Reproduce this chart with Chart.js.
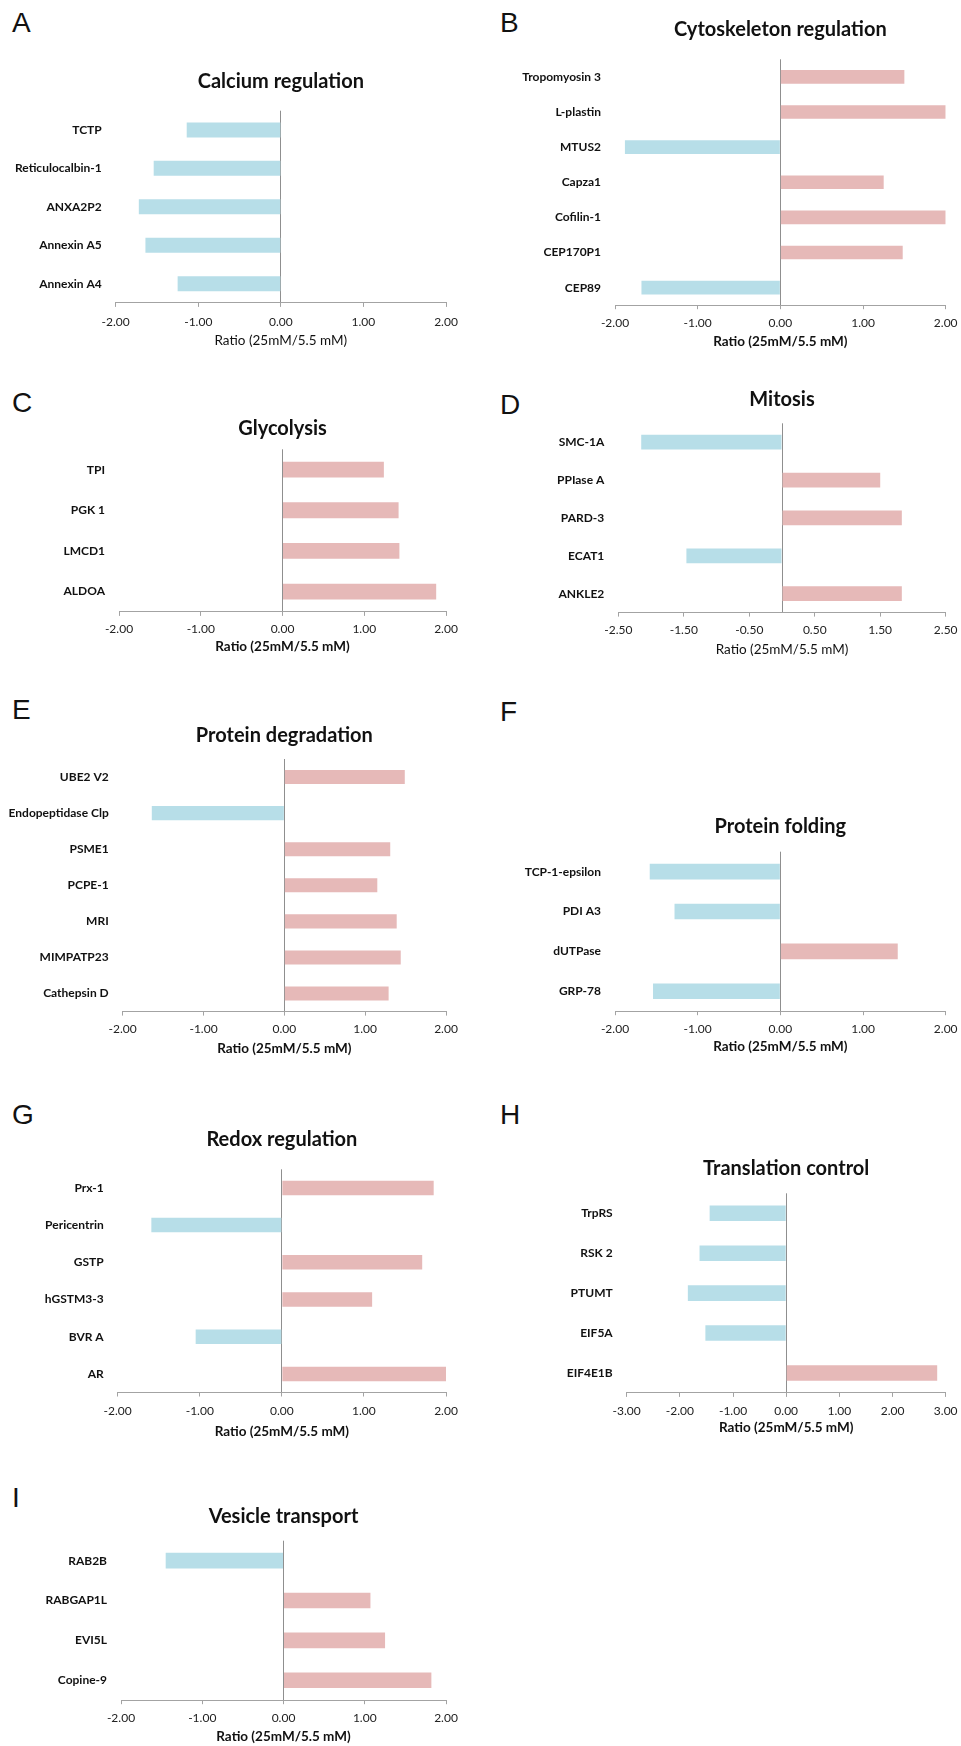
<!DOCTYPE html>
<html>
<head>
<meta charset="utf-8">
<script src="https://cdn.jsdelivr.net/npm/chart.js@4.4.1/dist/chart.umd.min.js"></script>
<style>
  html, body { margin: 0; padding: 0; background: #fff; }
  #page { position: relative; width: 961px; height: 1746px; overflow: hidden; background: #fff; }
  #page canvas { position: absolute; }
  .tag { position: absolute; font-family: "Liberation Sans", Arial, sans-serif; font-size: 28px; line-height: 28px; color: #111; }
</style>
</head>
<body>
<div id="page"></div>
<script>
// Fold-change ratios (25 mM / 5.5 mM glucose) per functional group
const calciumProteins = ['TCTP', 'Reticulocalbin-1', 'ANXA2P2', 'Annexin A5', 'Annexin A4'];
const calciumRatios = [-1.14, -1.54, -1.72, -1.64, -1.25];

const cytoskeletonProteins = ['Tropomyosin 3', 'L-plastin', 'MTUS2', 'Capza1', 'Cofilin-1', 'CEP170P1', 'CEP89'];
const cytoskeletonRatios = [1.50, 2.00, -1.88, 1.25, 2.00, 1.48, -1.68];

const glycolysisProteins = ['TPI', 'PGK 1', 'LMCD1', 'ALDOA'];
const glycolysisRatios = [1.24, 1.42, 1.43, 1.88];

const mitosisProteins = ['SMC-1A', 'PPIase A', 'PARD-3', 'ECAT1', 'ANKLE2'];
const mitosisRatios = [-2.15, 1.50, 1.83, -1.46, 1.83];

const degradationProteins = ['UBE2 V2', 'Endopeptidase Clp', 'PSME1', 'PCPE-1', 'MRI', 'MIMPATP23', 'Cathepsin D'];
const degradationRatios = [1.49, -1.64, 1.31, 1.15, 1.39, 1.44, 1.29];

const foldingProteins = ['TCP-1-epsilon', 'PDI A3', 'dUTPase', 'GRP-78'];
const foldingRatios = [-1.58, -1.28, 1.42, -1.54];

const redoxProteins = ['Prx-1', 'Pericentrin', 'GSTP', 'hGSTM3-3', 'BVR A', 'AR'];
const redoxRatios = [1.85, -1.59, 1.71, 1.10, -1.05, 2.00];

const translationProteins = ['TrpRS', 'RSK 2', 'PTUMT', 'EIF5A', 'EIF4E1B'];
const translationRatios = [-1.44, -1.63, -1.85, -1.52, 2.84];

const vesicleProteins = ['RAB2B', 'RABGAP1L', 'EVI5L', 'Copine-9'];
const vesicleRatios = [-1.45, 1.07, 1.25, 1.82];

// Axis tick values
const ticksTwo = [-2, -1, 0, 1, 2];
const ticksMitosis = [-2.5, -1.5, -0.5, 0.5, 1.5, 2.5];
const ticksThree = [-3, -2, -1, 0, 1, 2, 3];

const axisTitle = 'Ratio (25mM/5.5 mM)';

// Panel layout on the page (pixels)
const panels = [
  { tag: 'A', title: 'Calcium regulation', labels: calciumProteins, values: calciumRatios, ticks: ticksTwo,
    left: 0, w: 480, xL: 115.7, xR: 446, yC: 110.7, yA: 302.7, yT: 81.5, yTick: 321.7, yX: 340.7, boldX: false, tagX: 12, tagY: 13 },
  { tag: 'B', title: 'Cytoskeleton regulation', labels: cytoskeletonProteins, values: cytoskeletonRatios, ticks: ticksTwo,
    left: 480, w: 481, xL: 615, xR: 945.7, yC: 59.3, yA: 305, yT: 29.3, yTick: 323.3, yX: 341.7, boldX: true, tagX: 500, tagY: 13 },
  { tag: 'C', title: 'Glycolysis', labels: glycolysisProteins, values: glycolysisRatios, ticks: ticksTwo,
    left: 0, w: 480, xL: 119, xR: 446, yC: 449.3, yA: 611.7, yT: 429, yTick: 629.3, yX: 646.7, boldX: true, tagX: 12, tagY: 393 },
  { tag: 'D', title: 'Mitosis', labels: mitosisProteins, values: mitosisRatios, ticks: ticksMitosis,
    left: 480, w: 481, xL: 618.3, xR: 945.7, yC: 423.3, yA: 611.7, yT: 399.3, yTick: 629.3, yX: 649, boldX: false, tagX: 500, tagY: 395 },
  { tag: 'E', title: 'Protein degradation', labels: degradationProteins, values: degradationRatios, ticks: ticksTwo,
    left: 0, w: 480, xL: 122.7, xR: 446, yC: 759, yA: 1011, yT: 736, yTick: 1028.3, yX: 1048.3, boldX: true, tagX: 12, tagY: 700 },
  { tag: 'F', title: 'Protein folding', labels: foldingProteins, values: foldingRatios, ticks: ticksTwo,
    left: 480, w: 481, xL: 615, xR: 945.7, yC: 851.7, yA: 1011, yT: 826.7, yTick: 1029.3, yX: 1046.7, boldX: true, tagX: 500, tagY: 701.7 },
  { tag: 'G', title: 'Redox regulation', labels: redoxProteins, values: redoxRatios, ticks: ticksTwo,
    left: 0, w: 480, xL: 117.7, xR: 446, yC: 1169.3, yA: 1392.3, yT: 1139.3, yTick: 1410.7, yX: 1431.7, boldX: true, tagX: 12, tagY: 1105 },
  { tag: 'H', title: 'Translation control', labels: translationProteins, values: translationRatios, ticks: ticksThree,
    left: 480, w: 481, xL: 626.7, xR: 945.7, yC: 1193.3, yA: 1392.7, yT: 1168.3, yTick: 1410.7, yX: 1427.7, boldX: true, tagX: 500, tagY: 1105 },
  { tag: 'I', title: 'Vesicle transport', labels: vesicleProteins, values: vesicleRatios, ticks: ticksTwo,
    left: 0, w: 480, xL: 121, xR: 446, yC: 1540.7, yA: 1700, yT: 1516.7, yTick: 1717.7, yX: 1736.7, boldX: true, tagX: 12, tagY: 1487.3 }
];

const DOWN = '#B7DEE8';
const UP = '#E6B9B8';
const AXIS = '#a3a3a3';
const ZERO = '#8f8f8f';
const FONT = 'Lato, "Open Sans", sans-serif';

const page = document.getElementById('page');

function buildPanel(p) {
  // panel letter
  const tag = document.createElement('div');
  tag.className = 'tag';
  tag.textContent = p.tag;
  tag.style.left = p.tagX + 'px';
  tag.style.top = (p.tagY - 3.7) + 'px';
  page.appendChild(tag);

  const titleSize = 20, titleLH = titleSize * 1.2;
  const tickSize = 12, tickLH = tickSize * 1.2;
  const xTitleSize = 13.5, xTitleLH = xTitleSize * 1.2;
  const tickLen = 4;

  const top = Math.round(p.yT - 30);
  const xBoxH = (p.yX - p.yA) + xTitleLH / 2 + 4;
  const height = Math.ceil(p.yA - top + xBoxH);

  const canvas = document.createElement('canvas');
  canvas.width = p.w;
  canvas.height = height;
  canvas.style.left = p.left + 'px';
  canvas.style.top = top + 'px';
  canvas.style.width = p.w + 'px';
  canvas.style.height = height + 'px';
  page.appendChild(canvas);

  const tickValues = p.ticks.includes(0) ? p.ticks.slice() : p.ticks.concat([0]).sort((a, b) => a - b);
  const lo = Math.min(...p.ticks), hi = Math.max(...p.ticks);

  new Chart(canvas, {
    type: 'bar',
    data: {
      labels: p.labels,
      datasets: [{
        data: p.values,
        backgroundColor: p.values.map(v => v < 0 ? DOWN : UP),
        borderWidth: 0,
        barPercentage: 0.39,
        categoryPercentage: 1
      }]
    },
    options: {
      indexAxis: 'y',
      responsive: false,
      animation: false,
      devicePixelRatio: 1,
      layout: { padding: { left: 0, top: 0, bottom: 0, right: p.left + p.w - p.xR } },
      plugins: {
        legend: { display: false },
        tooltip: { enabled: false },
        title: {
          display: true,
          text: p.title,
          fullSize: false,
          color: '#111',
          font: { family: FONT, size: titleSize, weight: 'bold', lineHeight: 1.2 },
          padding: { top: p.yT - top - titleLH / 2, bottom: p.yC - (p.yT + titleLH / 2) }
        }
      },
      scales: {
        x: {
          type: 'linear',
          min: lo,
          max: hi,
          afterBuildTicks: s => { s.ticks = tickValues.map(v => ({ value: v })); },
          afterFit: s => { s.height = xBoxH; s.paddingLeft = 0; s.paddingRight = 0; },
          border: { display: true, color: AXIS, width: 1 },
          grid: {
            display: true,
            drawOnChartArea: true,
            drawTicks: true,
            tickLength: tickLen,
            color: c => (c.tick && c.tick.value === 0) ? ZERO : 'rgba(0,0,0,0)',
            tickColor: c => (c.tick && p.ticks.includes(c.tick.value)) ? AXIS : 'rgba(0,0,0,0)',
            lineWidth: 1
          },
          ticks: {
            autoSkip: false,
            maxRotation: 0,
            padding: p.yTick - p.yA - tickLen - tickLH / 2,
            color: '#222',
            font: { family: FONT, size: tickSize, lineHeight: 1.2 },
            callback: v => p.ticks.includes(v) ? Number(v).toFixed(2) : ''
          },
          title: {
            display: true,
            text: axisTitle,
            color: '#111',
            font: { family: FONT, size: xTitleSize, weight: p.boldX ? 'bold' : 'normal', lineHeight: 1.2 },
            padding: { top: 0, bottom: 4 }
          }
        },
        y: {
          type: 'category',
          offset: true,
          afterFit: s => { s.width = p.xL - p.left; s.paddingTop = 0; s.paddingBottom = 0; },
          border: { display: false },
          grid: { display: false, drawTicks: false },
          ticks: {
            autoSkip: false,
            padding: 14,
            color: '#111',
            font: { family: FONT, size: 12, weight: 'bold' }
          }
        }
      }
    }
  });
}

panels.forEach(buildPanel);
</script>
</body>
</html>
